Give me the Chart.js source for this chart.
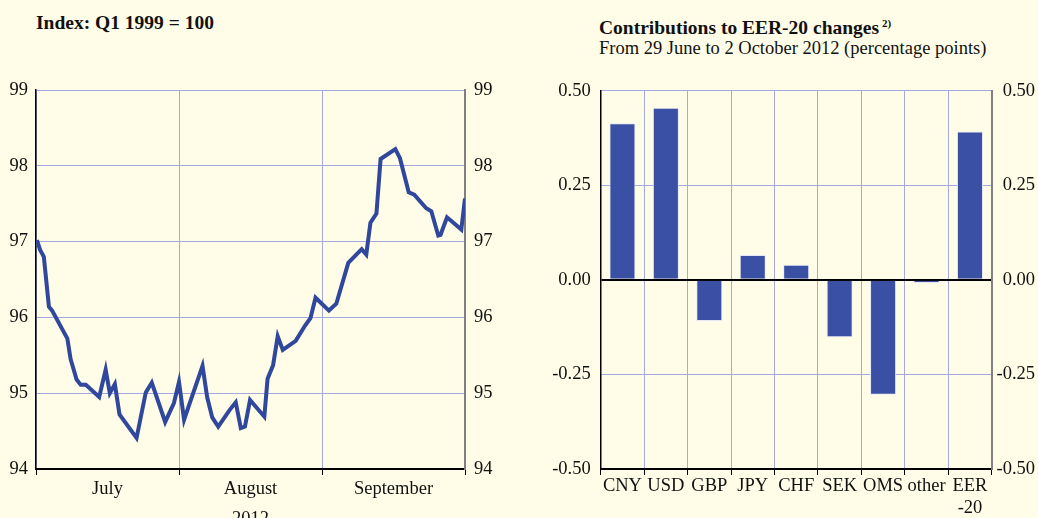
<!DOCTYPE html>
<html>
<head>
<meta charset="utf-8">
<script src="https://cdn.jsdelivr.net/npm/chart.js@4/dist/chart.umd.min.js"></script>
<style>
	html, body { margin: 0; padding: 0; }
	body { width: 1038px; height: 518px; overflow: hidden; background: #FFFDE8; position: relative; font-family: 'Liberation Serif', 'Times New Roman', serif; color: #111; }
	.title { position: absolute; font-size: 19.5px; font-weight: bold; line-height: 22px; white-space: nowrap; }
	.title sup { font-size: 11px; vertical-align: 7px; margin-left: 3px; }
	.sub { position: absolute; font-size: 18.5px; line-height: 22px; white-space: nowrap; }
	canvas { position: absolute; top: 0; }
</style>
</head>
<body>
<div class="title" style="left:36px; top:12px;">Index: Q1 1999 = 100</div>
<div class="title" style="left:599px; top:12px;">Contributions to EER-20 changes<sup>2)</sup></div>
<div class="sub" style="left:599px; top:37px;">From 29 June to 2 October 2012 (percentage points)</div>
<canvas id="indexChart" width="520" height="530" style="left:0;"></canvas>
<canvas id="contribChart" width="518" height="530" style="left:520px;"></canvas>
<script>
// left panel: EER-20 index, x in day slots (each month = 31 slots)
var dayPos = [0.2, 0.9, 1.7, 2.8, 3.5, 6.8, 7.5, 8.8, 9.7, 10.8, 13.7, 15.1, 16.0, 17.1, 18.1,
	21.8, 23.8, 25.1, 28.0, 29.9, 31.0, 32.1, 36.1, 37.1, 38.2, 39.5, 42.0, 43.3, 44.4, 45.3,
	46.4, 49.5, 50.2, 51.4, 52.4, 53.5, 56.3, 58.3, 59.5, 60.6, 63.5, 65.1, 67.7, 70.6, 71.6,
	72.5, 73.8, 74.7, 77.9, 78.9, 80.8, 82.0, 84.6, 85.7, 87.2, 87.7, 89.1, 92.2, 93.0];
var indexValues = [97.02, 96.89, 96.80, 96.14, 96.09, 95.72, 95.45, 95.18, 95.11, 95.11, 94.95, 95.31, 95.00, 95.12, 94.72,
	94.41, 95.01, 95.14, 94.62, 94.87, 95.15, 94.65, 95.36, 94.95, 94.68, 94.56, 94.78, 94.88, 94.54, 94.56,
	94.91, 94.69, 95.19, 95.37, 95.75, 95.57, 95.69, 95.89, 95.99, 96.26, 96.09, 96.18, 96.72, 96.90, 96.83,
	97.25, 97.37, 98.09, 98.22, 98.10, 97.65, 97.62, 97.44, 97.40, 97.08, 97.09, 97.32, 97.16, 97.57];
var monthEdges = [0, 31, 62, 93];
var monthMids = [15.5, 46.5, 77.5];
var monthLabels = ['July', 'August', 'September'];
var indexTicks = [94, 95, 96, 97, 98, 99];

// right panel: contributions
var currencies = ['CNY', 'USD', 'GBP', 'JPY', 'CHF', 'SEK', 'OMS', 'other', ['EER', '-20']];
var contributions = [0.414, 0.455, -0.109, 0.066, 0.040, -0.152, -0.304, -0.008, 0.392];
var contribTicks = [-0.50, -0.25, 0.00, 0.25, 0.50];

Chart.defaults.font.family = "'Liberation Serif', 'Times New Roman', serif";
Chart.defaults.font.size = 18.5;
Chart.defaults.color = '#111';

var gridColor = '#A4AADF';
var lineColor = '#2F479C';
var barColor = '#3A50A4';

var points = [];
for (var i = 0; i < dayPos.length; i++) {
	points.push({ x: dayPos[i], y: indexValues[i] });
}

var indexChart = new Chart(document.getElementById('indexChart').getContext('2d'), {
	type: 'line',
	data: {
		datasets: [{
			data: points,
			borderColor: lineColor,
			borderWidth: 4,
			pointRadius: 0,
			tension: 0
		}]
	},
	options: {
		responsive: false,
		animation: false,
		layout: { padding: { top: 90, left: 0, right: 0, bottom: 0 } },
		plugins: { legend: { display: false }, tooltip: { enabled: false } },
		scales: {
			x: {
				type: 'linear', min: 0, max: 93,
				afterBuildTicks: function (s) { s.ticks = monthEdges.map(function (v) { return { value: v }; }); },
				ticks: { display: false },
				grid: { color: gridColor, tickColor: '#000', tickLength: 6, lineWidth: 1 },
				border: { color: '#000', width: 2 }
			},
			x2: {
				type: 'linear', position: 'bottom', min: 0, max: 93,
				afterBuildTicks: function (s) { s.ticks = monthMids.map(function (v) { return { value: v }; }); },
				ticks: {
					autoSkip: false, maxRotation: 0, padding: 3,
					callback: function (v, i) { return monthLabels[i]; }
				},
				grid: { display: false, drawTicks: false },
				border: { display: false },
				title: { display: true, text: '2012', padding: { top: 1, bottom: 0 } },
				afterFit: function (s) { s.height = 55; }
			},
			y: {
				position: 'left', min: 94, max: 99,
				afterBuildTicks: function (s) { s.ticks = indexTicks.map(function (v) { return { value: v }; }); },
				ticks: { padding: 8 },
				grid: { color: gridColor, drawTicks: false },
				border: { color: '#000', width: 1.5 },
				afterFit: function (s) { s.width = 36; }
			},
			y2: {
				position: 'right', min: 94, max: 99,
				afterBuildTicks: function (s) { s.ticks = indexTicks.map(function (v) { return { value: v }; }); },
				ticks: { padding: 9 },
				grid: { display: false, drawTicks: false },
				border: { color: '#808080', width: 2 },
				afterFit: function (s) { s.width = 55; }
			}
		}
	}
});

var contribChart = new Chart(document.getElementById('contribChart').getContext('2d'), {
	type: 'bar',
	data: {
		labels: currencies,
		datasets: [{
			data: contributions,
			backgroundColor: barColor,
			borderColor: '#E6E8F6',
			borderWidth: 1,
			categoryPercentage: 1,
			barPercentage: 0.6
		}]
	},
	options: {
		responsive: false,
		animation: false,
		layout: { padding: { top: 90.7, left: 0, right: 3, bottom: 0 } },
		plugins: { legend: { display: false }, tooltip: { enabled: false } },
		scales: {
			x: {
				ticks: { autoSkip: false, maxRotation: 0, padding: 0 },
				grid: { offset: true, color: gridColor, tickColor: '#000', tickLength: 6 },
				border: { color: '#000', width: 2 },
				afterFit: function (s) { s.height = 61; }
			},
			y: {
				position: 'left', min: -0.5, max: 0.5,
				afterBuildTicks: function (s) { s.ticks = contribTicks.map(function (v) { return { value: v }; }); },
				ticks: { padding: 10, callback: function (v) { return v.toFixed(2); } },
				grid: {
					drawTicks: false,
					color: function (ctx) { return ctx.tick && ctx.tick.value === 0 ? '#000' : gridColor; },
					lineWidth: function (ctx) { return ctx.tick && ctx.tick.value === 0 ? 2 : 1; }
				},
				border: { color: '#000', width: 1.5 },
				afterFit: function (s) { s.width = 80.7; }
			},
			y2: {
				position: 'right', min: -0.5, max: 0.5,
				afterBuildTicks: function (s) { s.ticks = contribTicks.map(function (v) { return { value: v }; }); },
				ticks: { padding: 0, crossAlign: 'far', callback: function (v) { return v.toFixed(2); } },
				grid: { display: false, drawTicks: false },
				border: { color: '#808080', width: 2 },
				afterFit: function (s) { s.width = 43.3; }
			}
		}
	}
});
</script>
</body>
</html>
